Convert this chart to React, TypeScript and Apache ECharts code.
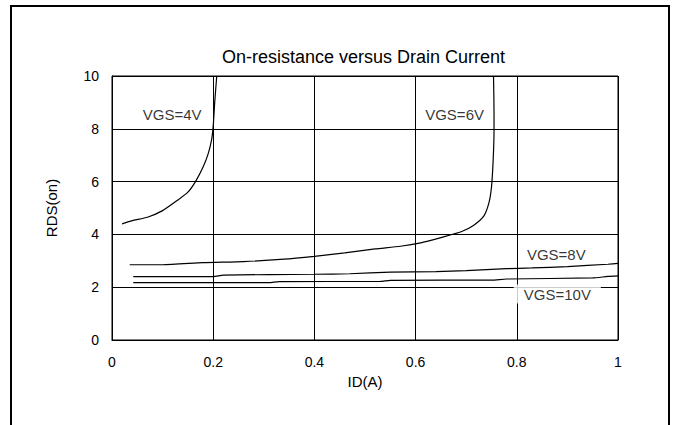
import React, { useEffect, useRef } from "react";
import * as echarts from "echarts";

const titleText = "On-resistance versus Drain Current";
const xAxisName = "ID(A)";
const yAxisName = "RDS(on)";

// [ID (A), RDS(on)]
const vgs4: number[][] = [
  [0.02, 4.4], [0.04, 4.52], [0.07, 4.65], [0.1, 4.9], [0.13, 5.3], [0.15, 5.6],
  [0.165, 6.0], [0.18, 6.55], [0.19, 7.05], [0.197, 7.6], [0.2, 8.1], [0.203, 9.0], [0.207, 10],
];
const vgs6: number[][] = [
  [0.035, 2.85], [0.1, 2.85], [0.18, 2.93], [0.26, 2.97], [0.34, 3.06], [0.4, 3.17],
  [0.46, 3.3], [0.52, 3.45], [0.57, 3.55], [0.61, 3.68], [0.65, 3.88], [0.69, 4.1],
  [0.715, 4.35], [0.735, 4.7], [0.745, 5.2], [0.75, 5.8], [0.753, 6.7], [0.755, 7.9],
  [0.755, 8.6], [0.754, 10],
];
const vgs8: number[][] = [
  [0.042, 2.4], [0.2, 2.4], [0.22, 2.46], [0.4, 2.49], [0.47, 2.51], [0.55, 2.57],
  [0.64, 2.59], [0.7, 2.63], [0.78, 2.7], [0.83, 2.73], [0.9, 2.78], [0.98, 2.87], [1.0, 2.9],
];
const vgs10: number[][] = [
  [0.042, 2.17], [0.31, 2.17], [0.33, 2.21], [0.53, 2.22], [0.55, 2.26], [0.75, 2.27],
  [0.78, 2.31], [0.95, 2.35], [0.98, 2.41], [1.0, 2.43],
];

const curveNames = ["VGS=4V", "VGS=6V", "VGS=8V", "VGS=10V"];
// label anchor (left edge, vertical centre) in data units
const labelX = [0.057, 0.615, 0.816, 0.794];
const labelY = [8.54, 8.54, 3.24, 1.74];

const FONT = '"Liberation Sans", Arial, Helvetica, sans-serif';

export default function App() {
  const ref = useRef<HTMLDivElement>(null);

  useEffect(() => {
    document.body.style.margin = "0";
    if (!ref.current) return;
    const chart = echarts.init(ref.current, undefined, { renderer: "svg" });

    const curves = [vgs4, vgs6, vgs8, vgs10];
    const lineSeries = curves.map((d, i) => ({
      type: "line",
      name: curveNames[i],
      data: d,
      showSymbol: false,
      symbol: "none",
      smooth: 0.2,
      lineStyle: { color: "#000", width: 1.2 },
      z: 3,
    }));

    const labelData = curveNames.map((n, i) => ({
      value: [labelX[i], labelY[i]],
      name: n,
      label:
        i === 3
          ? { padding: [2, 10, 2, 10], backgroundColor: "#fff" }
          : { padding: [1, 2, 1, 2], backgroundColor: "#fff" },
    }));

    chart.setOption({
      animation: false,
      backgroundColor: "#fff",
      textStyle: { fontFamily: FONT, color: "#000" },
      title: {
        text: titleText,
        left: 217,
        top: 43,
        textStyle: { fontFamily: FONT, fontSize: 18, fontWeight: "normal", color: "#000" },
      },
      grid: {
        left: 112,
        right: 56,
        top: 76,
        bottom: 85,
        show: true,
        borderColor: "#000",
        borderWidth: 1,
        backgroundColor: "transparent",
      },
      xAxis: {
        type: "value",
        min: 0,
        max: 1,
        interval: 0.2,
        name: xAxisName,
        nameLocation: "middle",
        nameGap: 30,
        nameTextStyle: { fontFamily: FONT, fontSize: 15, color: "#000" },
        axisLine: { show: true, lineStyle: { color: "#000", width: 1 } },
        axisTick: { show: false },
        axisLabel: { fontFamily: FONT, fontSize: 14, color: "#000", margin: 15 },
        splitLine: { show: true, lineStyle: { color: "#000", width: 1 } },
      },
      yAxis: {
        type: "value",
        min: 0,
        max: 10,
        interval: 2,
        name: yAxisName,
        nameLocation: "middle",
        nameGap: 53,
        nameRotate: 90,
        nameTextStyle: { fontFamily: FONT, fontSize: 15, color: "#000" },
        axisLine: { show: true, lineStyle: { color: "#000", width: 1 } },
        axisTick: { show: false },
        axisLabel: { fontFamily: FONT, fontSize: 14, color: "#000", margin: 13 },
        splitLine: { show: true, lineStyle: { color: "#000", width: 1 } },
      },
      graphic: [
        {
          type: "rect",
          shape: { x: 11, y: 6, width: 658, height: 440 },
          style: { fill: "none", stroke: "#000", lineWidth: 2 },
          z: 10,
        },
      ],
      series: [
        ...lineSeries,
        {
          type: "scatter",
          name: "labels",
          data: labelData,
          symbolSize: 0,
          silent: true,
          z: 5,
          label: {
            show: true,
            position: "right",
            distance: 0,
            formatter: (p: any) => p.name,
            fontFamily: FONT,
            fontSize: 15,
            color: "#000",
          },
        },
      ],
    });

    return () => chart.dispose();
  }, []);

  return <div ref={ref} style={{ width: 674, height: 425 }} />;
}
